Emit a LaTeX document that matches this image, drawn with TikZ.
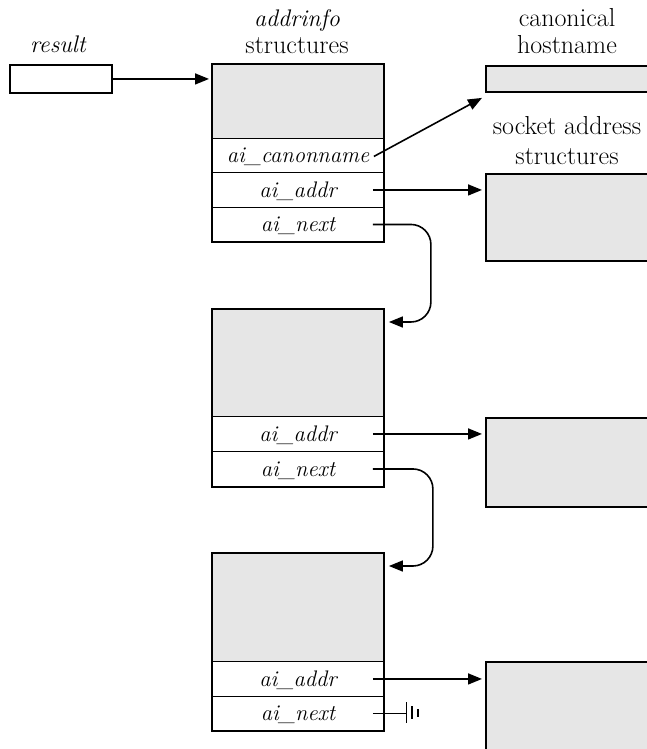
\documentclass[tikz,border=0pt]{standalone}
\usetikzlibrary{arrows.meta,calc}
\definecolor{boxgray}{HTML}{E6E6E6}
\tikzset{
  lbl/.style={font=\fontsize{26}{30}\selectfont, inner sep=0, anchor=base},
  ilbl/.style={font=\fontsize{24}{28}\selectfont\itshape, inner sep=0, anchor=base},
  cell/.style={draw, line width=0.9pt, minimum width=171pt, inner sep=0, anchor=north west,
    text height=15pt, text depth=0pt, font=\fontsize{22.5}{26}\selectfont\itshape},
  graycell/.style={cell, fill=boxgray},
  outer/.style={line width=1.9pt},
  ptr/.style={line width=1.6pt, -{Triangle[length=14pt,width=11pt]}},
  nextptr/.style={ptr, rounded corners=20pt},
  rbox/.style={draw, line width=1.9pt, fill=boxgray, anchor=north west, inner sep=0, minimum width=200pt},
}
\begin{document}
\begin{tikzpicture}[x=1pt,y=-1pt]
\clip (0,0) rectangle (647,749);
\fill[white] (0,0) rectangle (647,749);

% labels
\node[ilbl] (lres) at (58,53) {result};
\node[ilbl] (ladd) at (297,27) {addrinfo};
\node[lbl] (lstr) at (297,54) {structures};
\node[lbl] (lcan) at (567,27) {canonical};
\node[lbl] (lhost) at (567,54) {hostname};
\node[lbl] (lsock) at (567,135) {socket address};
\node[lbl] (lsstr) at (567,164) {structures};

% result pointer box
\node[draw, outer, fill=white, minimum width=102pt, minimum height=28pt, inner sep=0, anchor=north west] (res) at (9,64) {};

% addrinfo structure 1
\node[graycell, minimum height=74pt] (g1) at (212,64) {};
\node[cell, minimum height=34pt] (cn1) at (212,138) {ai\_canonname};
\node[cell, minimum height=35pt] (ad1) at (212,172) {ai\_addr};
\node[cell, minimum height=34pt] (nx1) at (212,207) {ai\_next};
\draw[outer] (g1.north west) rectangle (nx1.south east);

% addrinfo structure 2
\node[graycell, minimum height=107pt] (g2) at (212,309) {};
\node[cell, minimum height=35pt] (ad2) at (212,416) {ai\_addr};
\node[cell, minimum height=35pt] (nx2) at (212,451) {ai\_next};
\draw[outer] (g2.north west) rectangle (nx2.south east);

% addrinfo structure 3
\node[graycell, minimum height=108pt] (g3) at (212,553) {};
\node[cell, minimum height=35pt] (ad3) at (212,661) {ai\_addr};
\node[cell, minimum height=34pt] (nx3) at (212,696) {ai\_next};
\draw[outer] (g3.north west) rectangle (nx3.south east);

% right-hand boxes
\node[rbox, minimum height=26pt] (host) at (485,65) {};
\node[rbox, minimum height=87pt] (sa1) at (485,173) {};
\node[rbox, minimum height=89pt] (sa2) at (485,417) {};
\node[rbox, minimum height=110pt] (sa3) at (485,661) {};

% pointers
\draw[ptr] (res.east) -- ($(g1.west |- res.east)+(-3,0)$);
\draw[ptr] ($(cn1.east)+(-10,1)$) -- ($(host.south west)+(-3,5)$);
\draw[ptr] ($(ad1.east)+(-11,0)$) -- ($(sa1.west |- ad1.east)+(-3,0)$);
\draw[ptr] ($(ad2.east)+(-11,0)$) -- ($(sa2.west |- ad2.east)+(-3,0)$);
\draw[ptr] ($(ad3.east)+(-11,0)$) -- ($(sa3.west |- ad3.east)+(-3,0)$);

% next pointers
\draw[nextptr] ($(nx1.east)+(-11,0)$) -- ($(nx1.east)+(47,0)$)
  -- ($(g2.north east)+(47,13)$) -- ($(g2.north east)+(5,13)$);
\draw[nextptr] ($(nx2.east)+(-11,0)$) -- ($(nx2.east)+(49,0)$)
  -- ($(g3.north east)+(49,13)$) -- ($(g3.north east)+(5,13)$);

% null (ground) terminator
\coordinate (gnd) at ($(nx3.east)+(22.5,0)$);
\draw[line width=1.6pt] ($(nx3.east)+(-11,0)$) -- (gnd);
\draw[line width=1.6pt] ($(gnd)+(0,-11)$) -- ($(gnd)+(0,10)$);
\draw[line width=1.3pt] ($(gnd)+(5.5,-7)$) -- ($(gnd)+(5.5,6)$);
\draw[line width=2pt] ($(gnd)+(11.5,-4)$) -- ($(gnd)+(11.5,4)$);
\end{tikzpicture}
\end{document}
